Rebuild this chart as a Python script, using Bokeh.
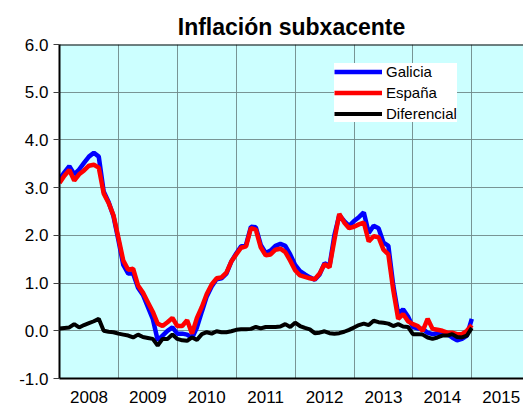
import numpy as np
from bokeh.plotting import figure
from bokeh.models import FixedTicker, NumeralTickFormatter, Legend, LegendItem, Span, Range1d
from bokeh.embed import file_html
from bokeh.resources import INLINE

# Monthly data, Jan 2008 .. Jan 2015
galicia = [3.18, 3.32, 3.45, 3.28, 3.38, 3.52, 3.65, 3.73, 3.65, 2.92, 2.70, 2.40,
           1.90, 1.38, 1.20, 1.20, 0.90, 0.75, 0.50, 0.25, -0.20, -0.10, 0.00, 0.07,
           -0.06, -0.06, -0.08, -0.15, 0.07, 0.40, 0.72, 0.93, 1.08, 1.10, 1.20, 1.45,
           1.62, 1.77, 1.80, 2.18, 2.17, 1.80, 1.63, 1.68, 1.78, 1.82, 1.78, 1.60,
           1.38, 1.25, 1.18, 1.12, 1.07, 1.18, 1.42, 1.35, 2.00, 2.42, 2.30, 2.20,
           2.30, 2.38, 2.48, 2.05, 2.20, 2.15, 1.85, 1.78, 0.95, 0.35, 0.45, 0.30,
           0.08, 0.05, 0.04, -0.04, -0.07, -0.05, -0.04, -0.07, -0.14, -0.20, -0.17, -0.10,
           0.25]
espana = [3.10, 3.25, 3.37, 3.15, 3.28, 3.36, 3.46, 3.48, 3.42, 2.88, 2.68, 2.42,
          1.95, 1.47, 1.28, 1.30, 0.95, 0.80, 0.60, 0.40, 0.15, 0.10, 0.18, 0.27,
          0.10, 0.10, 0.22, -0.06, 0.27, 0.50, 0.77, 0.97, 1.10, 1.12, 1.22, 1.45,
          1.60, 1.74, 1.77, 2.15, 2.12, 1.75, 1.58, 1.60, 1.70, 1.72, 1.65, 1.47,
          1.27, 1.16, 1.13, 1.10, 1.08, 1.20, 1.40, 1.33, 1.90, 2.45, 2.27, 2.15,
          2.18, 2.23, 2.27, 1.87, 1.98, 1.96, 1.70, 1.60, 0.85, 0.25, 0.35, 0.20,
          0.14, 0.10, 0.00, 0.25, 0.04, 0.02, 0.00, -0.04, -0.04, -0.07, -0.07, 0.00,
          0.12]
diferencial = [0.05, 0.06, 0.07, 0.14, 0.07, 0.12, 0.16, 0.20, 0.25, 0.00, -0.02, -0.03,
               -0.06, -0.08, -0.10, -0.14, -0.08, -0.13, -0.15, -0.17, -0.31, -0.17, -0.17, -0.08,
               -0.17, -0.20, -0.21, -0.14, -0.19, -0.07, -0.03, -0.06, -0.01, -0.03, -0.03, -0.01,
               0.02, 0.03, 0.03, 0.04, 0.08, 0.05, 0.08, 0.08, 0.08, 0.09, 0.14, 0.08,
               0.17, 0.10, 0.06, 0.03, -0.05, -0.04, -0.01, -0.05, -0.06, -0.05, -0.02, 0.02,
               0.07, 0.12, 0.15, 0.12, 0.21, 0.18, 0.17, 0.15, 0.10, 0.14, 0.09, 0.08,
               -0.07, -0.07, -0.08, -0.14, -0.17, -0.14, -0.10, -0.10, -0.07, -0.13, -0.14, -0.10,
               0.06]
start_year = 2008
year_labels = ["2008", "2009", "2010", "2011", "2012", "2013", "2014", "2015"]
y_ticks = [-1, 0, 1, 2, 3, 4, 5, 6]

months = start_year + np.arange(len(galicia)) / 12.0

FONT = "Liberation Sans"

p = figure(frame_width=464, frame_height=334, output_backend="svg", toolbar_location=None,
           x_range=Range1d(start_year, start_year + 464 / 58.9), y_range=Range1d(-1, 6),
           min_border_left=59, min_border_right=0, min_border_top=44, min_border_bottom=30,
           title="Inflación subxacente")

p.background_fill_color = "#CCFFFF"
p.border_fill_color = "white"
p.outline_line_color = None

p.title.text_font = FONT
p.title.text_font_size = "23px"
p.title.text_font_style = "bold"
p.title.align = "center"
p.title.text_color = "black"

# x axis: labels at mid-year, grid at year boundaries
mid = [start_year + k + 0.5 for k in range(len(year_labels))]
p.xaxis.ticker = FixedTicker(ticks=mid)
p.xaxis.major_label_overrides = {m: lab for m, lab in zip(mid, year_labels)}
p.xaxis.major_tick_out = 0
p.xaxis.major_tick_in = 0
p.xaxis.minor_tick_out = 0
p.xaxis.minor_tick_in = 0
p.xaxis.axis_line_color = "black"
p.xaxis.axis_line_width = 2
p.xaxis.major_label_text_font = FONT
p.xaxis.major_label_text_font_size = "17px"
p.xaxis.major_label_text_color = "black"
p.xaxis.major_label_standoff = 12
p.xgrid.ticker = FixedTicker(ticks=[start_year + k for k in range(1, len(year_labels))])

p.yaxis.ticker = FixedTicker(ticks=y_ticks)
p.yaxis.formatter = NumeralTickFormatter(format="0.0")
p.yaxis.major_tick_out = 6
p.yaxis.major_tick_in = 0
p.yaxis.minor_tick_out = 0
p.yaxis.minor_tick_in = 0
p.yaxis.major_tick_line_color = "#404040"
p.yaxis.axis_line_color = "black"
p.yaxis.axis_line_width = 2
p.yaxis.major_label_text_font = FONT
p.yaxis.major_label_text_font_size = "17px"
p.yaxis.major_label_text_color = "black"
p.yaxis.major_label_standoff = 5

for g in (p.xgrid, p.ygrid):
    g.grid_line_color = "#6f8a8a"
    g.grid_line_width = 1
    g.grid_line_alpha = 0.9

p.add_layout(Span(location=6, dimension="width", line_color="black", line_width=2))

r1 = p.line(months, galicia, line_color="#0000FF", line_width=4.5)
r2 = p.line(months, espana, line_color="#FF0000", line_width=4.5)
r3 = p.line(months, diferencial, line_color="black", line_width=4)

legend = Legend(items=[LegendItem(label="Galicia", renderers=[r1]),
                       LegendItem(label="España", renderers=[r2]),
                       LegendItem(label="Diferencial", renderers=[r3])],
                location=(275, 256))
legend.padding = 4
legend.spacing = 4
legend.margin = 0
legend.glyph_width = 48
legend.glyph_height = 17
legend.label_height = 17
legend.label_standoff = 4
legend.label_text_font = FONT
legend.label_text_font_size = "15px"
legend.label_text_color = "black"
legend.border_line_color = None
legend.background_fill_color = "white"
legend.background_fill_alpha = 1.0
p.add_layout(legend)

open("out.html", "w").write(file_html(p, INLINE))
